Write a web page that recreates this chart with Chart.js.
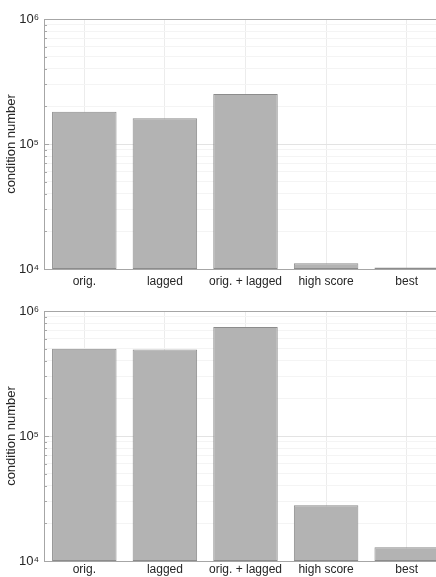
<!DOCTYPE html>
<html>
<head>
<meta charset="utf-8">
<script src="https://cdn.jsdelivr.net/npm/chart.js@4.4.0/dist/chart.umd.min.js"></script>
<style>
  html, body { margin: 0; padding: 0; background: #fff; overflow: hidden; width: 436px; height: 577px; }
  .panel { position: absolute; left: 0; width: 448px; }
  #p1 { top: 0; height: 290px; }
  #p2 { top: 290px; height: 287px; }
</style>
</head>
<body>
<div class="panel" id="p1"><canvas id="chartTop"></canvas></div>
<div class="panel" id="p2"><canvas id="chartBottom"></canvas></div>
<script>
const categories = ['orig.', 'lagged', 'orig. + lagged', 'high score', 'best'];
const topValues = [1.81e5, 1.61e5, 2.51e5, 1.11e4, 1.03e4];
const bottomValues = [5.0e5, 4.91e5, 7.45e5, 2.79e4, 1.29e4];
const yMin = 1e4;
const yMax = 1e6;
const decadeLabels = { 10000: '10\u2074', 100000: '10\u2075', 1000000: '10\u2076' };
const yTitle = 'condition number';

const FONT = "'Liberation Sans', Arial, sans-serif";
const TXT = '#262626';

function isMajor(v) {
  return Object.prototype.hasOwnProperty.call(decadeLabels, String(v));
}

// box + inner minor ticks like the original axes
const axesBox = {
  id: 'axesBox',
  afterDatasetsDraw(chart) {
    const { ctx, chartArea: a, scales } = chart;
    ctx.save();
    ctx.strokeStyle = '#a6a6a6';
    ctx.lineWidth = 1;
    ctx.strokeRect(Math.round(a.left) + 0.5, Math.round(a.top) + 0.5, a.right - a.left, a.bottom - a.top);
    scales.y.ticks.forEach(t => {
      const y = Math.round(scales.y.getPixelForValue(t.value)) + 0.5;
      const len = isMajor(t.value) ? 5 : 3;
      ctx.beginPath();
      ctx.moveTo(a.left, y);
      ctx.lineTo(a.left + len, y);
      ctx.stroke();
    });
    ctx.restore();
  }
};

function makeChart(id, values, padTop, xHeight, xPad) {
  const ctx = document.getElementById(id).getContext('2d');
  return new Chart(ctx, {
    type: 'bar',
    data: {
      labels: categories,
      datasets: [{
        data: values,
        backgroundColor: '#b3b3b3',
        borderColor: '#8c8c8c',
        borderWidth: 1,
        borderSkipped: false,
        barPercentage: 0.8,
        categoryPercentage: 1.0
      }]
    },
    options: {
      responsive: true,
      maintainAspectRatio: false,
      animation: false,
      layout: { padding: { top: padTop, right: 1, left: 0, bottom: 0 } },
      plugins: { legend: { display: false }, tooltip: { enabled: false } },
      scales: {
        x: {
          grid: { offset: false, color: '#ececec', drawTicks: false },
          border: { display: false },
          ticks: { color: TXT, font: { family: FONT, size: 12 }, padding: xPad, maxRotation: 0, autoSkip: false },
          afterFit(scale) { scale.height = xHeight; }
        },
        y: {
          type: 'logarithmic',
          min: yMin,
          max: yMax,
          afterBuildTicks(scale) {
            const ticks = [];
            for (let d = yMin; d < yMax; d *= 10) {
              for (let m = 1; m < 10; m++) ticks.push({ value: Math.round(m * d) });
            }
            ticks.push({ value: yMax });
            scale.ticks = ticks;
          },
          grid: {
            drawTicks: false,
            color: c => isMajor(c.tick.value) ? '#e3e3e3' : '#f4f4f4'
          },
          border: { display: false },
          ticks: {
            color: TXT,
            font: { family: FONT, size: 13 },
            padding: 5,
            autoSkip: false,
            callback: v => decadeLabels[v] || ''
          },
          title: {
            display: true,
            text: yTitle,
            color: TXT,
            font: { family: FONT, size: 13 },
            padding: { top: 4, bottom: 0 }
          },
          afterFit(scale) { scale.width = 44; }
        }
      }
    },
    plugins: [axesBox]
  });
}

makeChart('chartTop', topValues, 19, 21, 5);
makeChart('chartBottom', bottomValues, 21, 16, 1);
</script>
</body>
</html>
